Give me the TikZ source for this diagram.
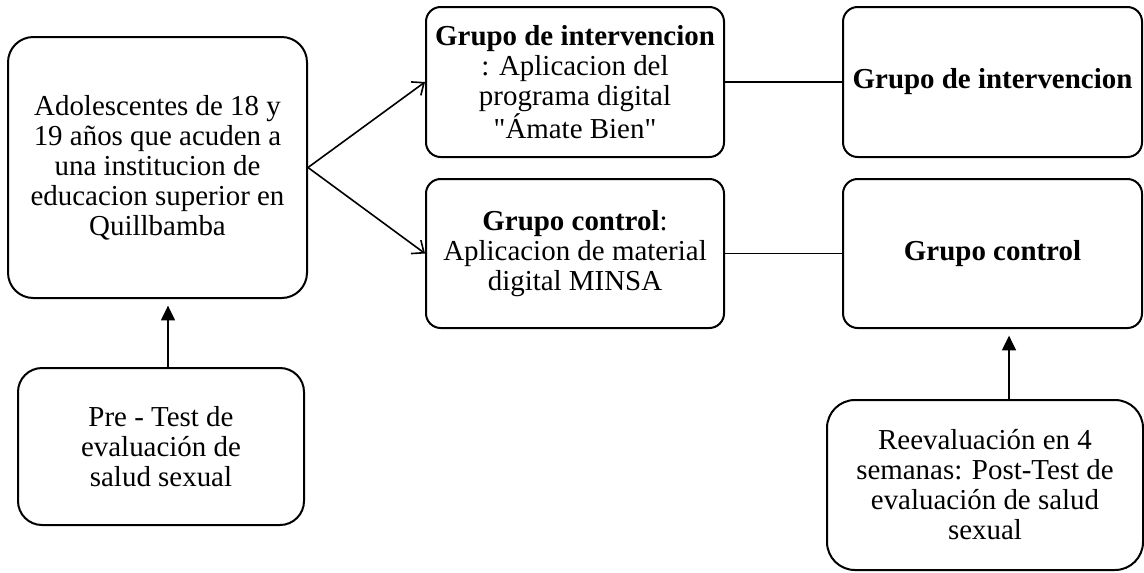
\documentclass[tikz,border=0pt]{standalone}
\usepackage{fontspec}
\setmainfont{Liberation Serif}
\newfontfamily\qfont{Liberation Serif}
\usetikzlibrary{arrows.meta}
\begin{document}
\begin{tikzpicture}[x=0.75pt,y=-0.75pt,
  box/.style={draw, line width=1.5pt, align=center, inner sep=2pt,
    font=\fontsize{21.7pt}{22.5pt}\selectfont},
  link/.style={line width=1.3pt},
  openarrow/.style={line width=1.2pt, -{Straight Barb[length=7.5pt,width=12.5pt,line width=1.2pt]}},
  filledarrow/.style={line width=0.9pt, -{Triangle[length=11pt,width=10.5pt]}, shorten >=5pt}]
\useasboundingbox (0,0) rectangle (1144,572);
\node[box, rounded corners=19pt, minimum width=224.25pt, minimum height=195.75pt] (L) at (157.5,167.5)
  {Adolescentes de 18 y\\19 años que acuden a\\una institucion de\\educacion superior en\\Quillbamba};
\node[box, rounded corners=18pt, minimum width=214.5pt, minimum height=117.75pt] (P) at (161,446.5)
  {Pre - Test de\\evaluación de\\salud sexual};
\node[box, rounded corners=11pt, minimum width=223.5pt, minimum height=112.5pt] (I) at (575,82)
  {\textbf{Grupo de intervencion}\\: Aplicacion del\\programa digital\\{\qfont"Ámate Bien"}};
\node[box, rounded corners=11pt, minimum width=223.5pt, minimum height=111.75pt] (C) at (575,253.5)
  {\textbf{Grupo control}:\\Aplicacion de material\\digital MINSA};
\node[box, rounded corners=11pt, minimum width=224.25pt, minimum height=112.5pt] (RI) at (992.5,82)
  {\textbf{Grupo de intervencion}};
\node[box, rounded corners=11pt, minimum width=224.25pt, minimum height=111.75pt] (RC) at (992.5,253.5)
  {\textbf{Grupo control}};
\node[box, rounded corners=21pt, minimum width=237pt, minimum height=127.5pt] (Q) at (985,485)
  {Reevaluación en 4\\semanas: Post-Test de\\evaluación de salud\\sexual};
\coordinate (a1) at (168,0);
\coordinate (a2) at (1009,0);
\draw[openarrow] (L.east) -- (I.west);
\draw[openarrow] (L.east) -- (C.west);
\draw[link] (I.east) -- (RI.west);
\draw[link] (C.east) -- (RC.west);
\draw[filledarrow] (P.north -| a1) -- (L.south -| a1);
\draw[filledarrow] (Q.north -| a2) -- (RC.south -| a2);
\end{tikzpicture}
\end{document}
